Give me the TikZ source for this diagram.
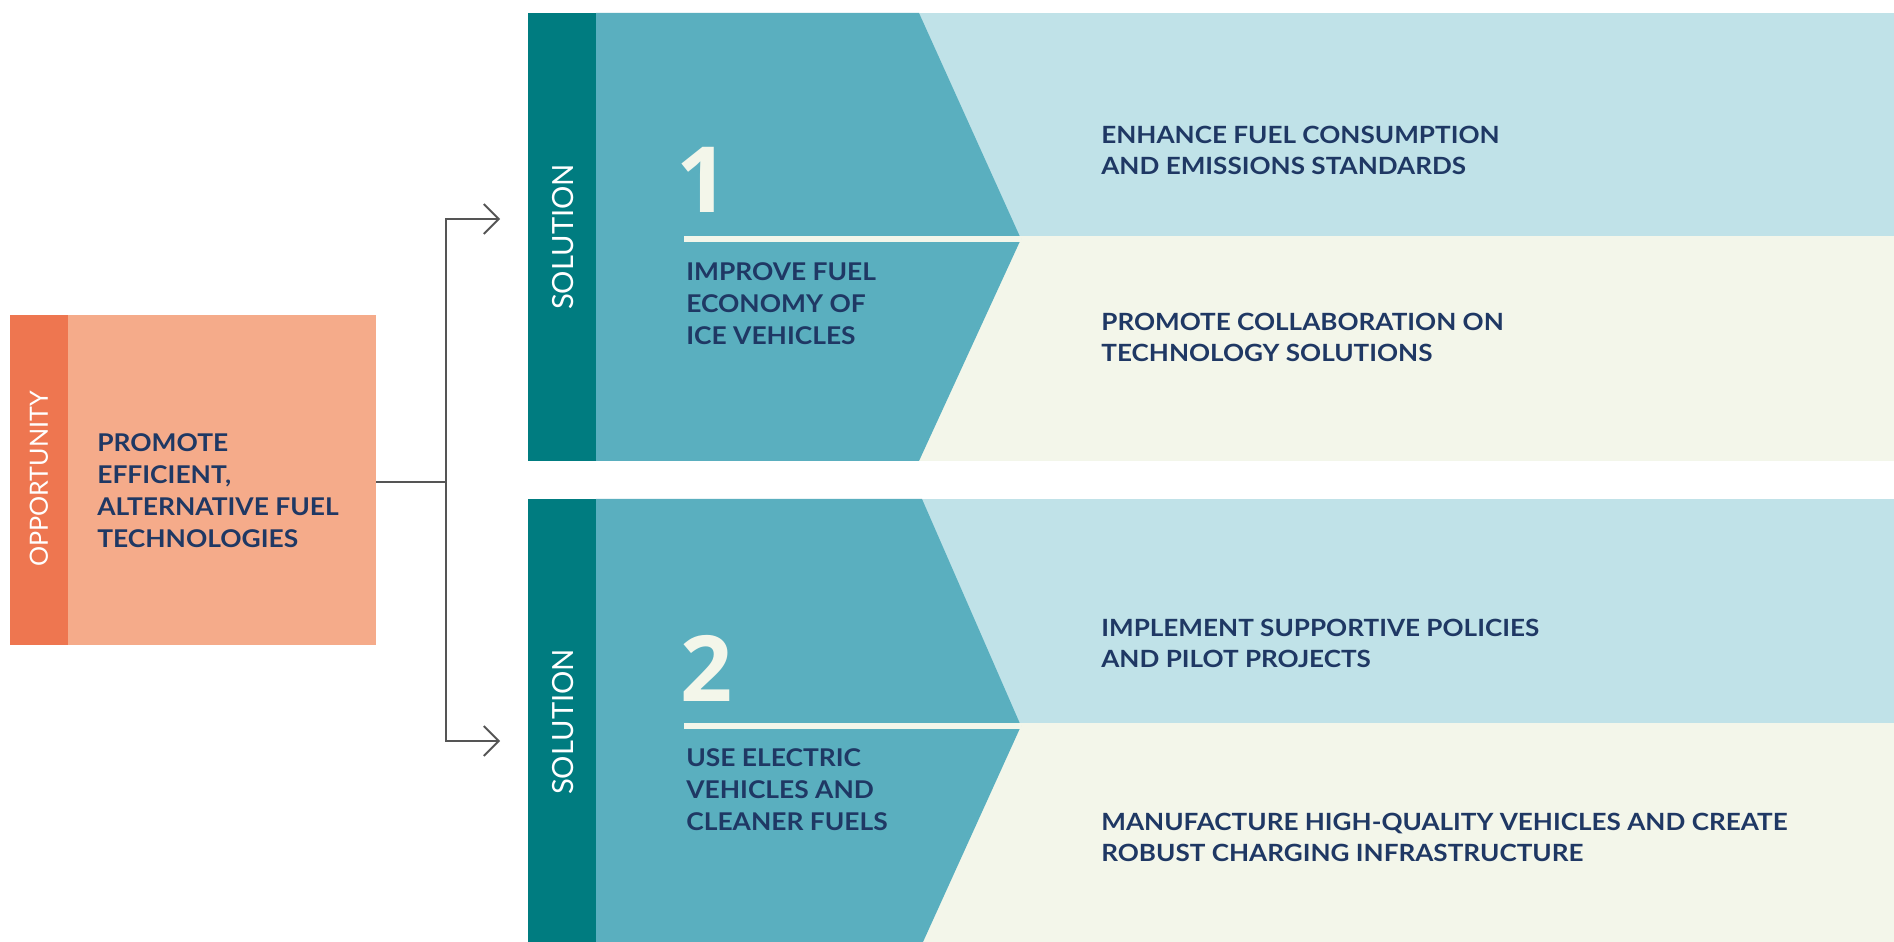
\documentclass[tikz,border=0pt]{standalone}
\usepackage{fontspec}
\setmainfont{Lato}
\newfontfamily\wideFont[FakeStretch=1.08]{Lato}
\newfontfamily\stepFont[FakeStretch=1.1]{Lato}
\newfontfamily\digitFont{Open Sans}
\usetikzlibrary{arrows.meta}

\begin{document}
\begin{tikzpicture}[x=0.02cm, y=-0.02cm,
    mainText/.style={anchor=north west, inner sep=0pt, align=left, text=navyText,
        font=\wideFont\fontsize{13.9}{18.2}\selectfont\bfseries},
    stepText/.style={anchor=north west, inner sep=0pt, align=left, text=navyText,
        font=\stepFont\fontsize{13.5}{17.6}\selectfont\bfseries},
    sideLabel/.style={rotate=90, inner sep=0pt, text=white},
    bigNumber/.style={anchor=base west, inner sep=0pt, text=ivory,
        font=\digitFont\fontsize{52}{60}\selectfont\bfseries},
    link/.style={draw=linkGray, line width=1.1pt},
    linkArrow/.style={link, -{Straight Barb[length=8.5pt, width=17pt]}}]

    \definecolor{oppDark}{HTML}{EE7650}
    \definecolor{oppLight}{HTML}{F5AB8A}
    \definecolor{tealDark}{HTML}{007C80}
    \definecolor{tealMid}{HTML}{5AAFBF}
    \definecolor{iceBlue}{HTML}{C0E2E8}
    \definecolor{paleGreen}{HTML}{F3F6EA}
    \definecolor{ivory}{HTML}{F3F6EA}
    \definecolor{navyText}{HTML}{1F3864}
    \definecolor{linkGray}{HTML}{555555}

    % Page size
    \useasboundingbox (0,0) rectangle (1894,942);
    \fill[white] (0,0) rectangle (1894,942);

    % Opportunity box
    \fill[oppDark] (10,315) rectangle (68,645);
    \fill[oppLight] (68,315) rectangle (376,645);
    \node[sideLabel, font=\fontsize{14.3}{16}\selectfont] (oppLabel) at (39,479) {OPPORTUNITY};
    \node[mainText] (oppText) at (97,433) {PROMOTE\\EFFICIENT,\\ALTERNATIVE FUEL\\TECHNOLOGIES};

    % Solution 1
    \fill[iceBlue] (919,13) rectangle (1894,236);
    \fill[paleGreen] (919,236) rectangle (1894,461);
    \fill[tealMid] (596,13) -- (919,13) -- (1021,239) -- (919,461) -- (596,461) -- cycle;
    \fill[tealDark] (528,13) rectangle (596,461);
    \fill[ivory] (684,236) rectangle (1021,242);
    \node[sideLabel, font=\fontsize{16.6}{19}\selectfont] (solLabelA) at (563,237) {SOLUTION};
    \node[bigNumber] (numA) at (676,213) {1};
    \node[mainText] (solTextA) at (686,262) {IMPROVE FUEL\\ECONOMY OF\\ICE VEHICLES};
    \node[stepText] (stepA1) at (1101,126) {ENHANCE FUEL CONSUMPTION\\AND EMISSIONS STANDARDS};
    \node[stepText] (stepA2) at (1101,313) {PROMOTE COLLABORATION ON\\TECHNOLOGY SOLUTIONS};

    % Solution 2
    \fill[iceBlue] (922,499) rectangle (1894,723);
    \fill[paleGreen] (922,723) rectangle (1894,942);
    \fill[tealMid] (596,499) -- (922,499) -- (1021,726) -- (923,942) -- (596,942) -- cycle;
    \fill[tealDark] (528,499) rectangle (596,942);
    \fill[ivory] (684,723) rectangle (1021,729);
    \node[sideLabel, font=\fontsize{16.6}{19}\selectfont] (solLabelB) at (563,722) {SOLUTION};
    \node[bigNumber] (numB) at (680,701) {2};
    \node[mainText] (solTextB) at (686,748) {USE ELECTRIC\\VEHICLES AND\\CLEANER FUELS};
    \node[stepText] (stepB1) at (1101,619) {IMPLEMENT SUPPORTIVE POLICIES\\AND PILOT PROJECTS};
    \node[stepText] (stepB2) at (1101,813) {MANUFACTURE HIGH-QUALITY VEHICLES AND CREATE\\ROBUST CHARGING INFRASTRUCTURE};

    % Connectors
    \coordinate (oppOut) at (376,482);
    \coordinate (fork) at (446,482);
    \coordinate (tipA) at (500,219);
    \coordinate (tipB) at (500,741);
    \draw[link] (oppOut) -- (fork);
    \draw[linkArrow] (fork) |- (tipA);
    \draw[linkArrow] (fork) |- (tipB);

\end{tikzpicture}
\end{document}
